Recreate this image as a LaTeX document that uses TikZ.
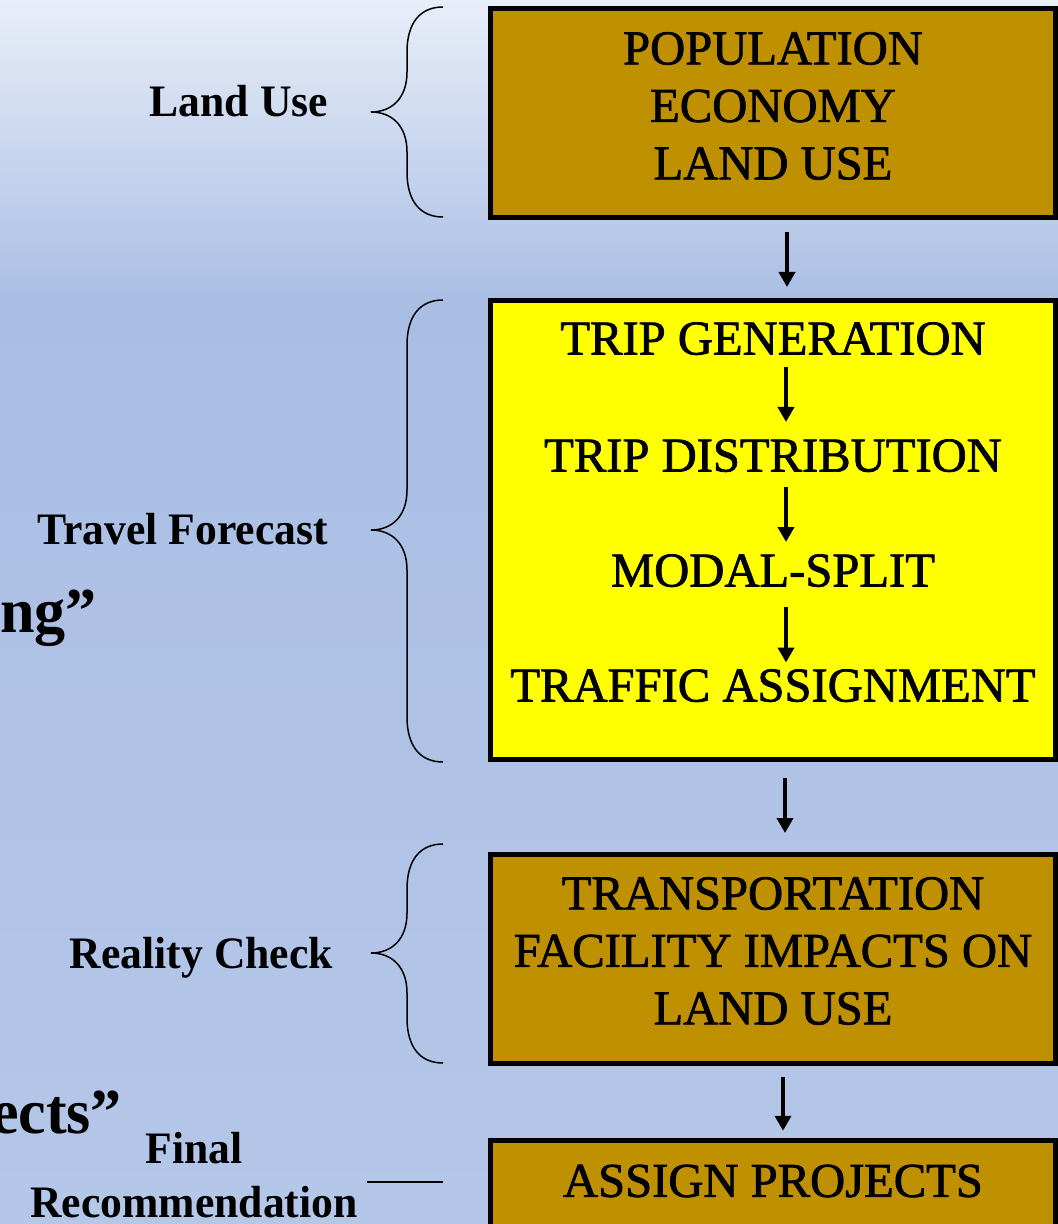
\documentclass[tikz,border=0pt]{standalone}
\usepackage{fontspec}
\setmainfont{Liberation Serif}
\newfontfamily\boxfont{Liberation Serif}[FakeBold=1.5]
\newfontfamily\labelfont{Liberation Serif}[FakeStretch=0.97]
\usetikzlibrary{arrows.meta}
\definecolor{bgtop}{RGB}{232,238,248}
\definecolor{bgmid}{RGB}{170,190,228}
\definecolor{bgbot}{RGB}{181,199,232}
\definecolor{landgold}{RGB}{191,144,0}
\definecolor{tripyellow}{RGB}{255,255,0}
\newcommand{\labelbrace}[3]{%
	\draw[bracket] (443,#1) .. controls (420,#1) and (407,{#1+16}) .. (407,{#1+45})
		-- (407,{#2-40}) .. controls (407,{#2-14}) and (392,#2) .. (371,#2)
		.. controls (392,#2) and (407,{#2+14}) .. (407,{#2+40})
		-- (407,{#3-45}) .. controls (407,{#3-16}) and (420,#3) .. (443,#3);}

\begin{document}
\begin{tikzpicture}[x=0.5pt,y=-0.5pt,
	stagebox/.style={draw=black,line width=2.5pt,minimum width=282.5pt,inner sep=0pt},
	boxtext/.style={align=center,inner sep=0pt,outer sep=0pt,font=\boxfont\fontsize{24.3}{28.75}\selectfont},
	steptext/.style={boxtext,text height=15.5pt,text depth=0pt},
	sidelabel/.style={inner sep=0pt,outer sep=0pt,font=\labelfont\bfseries\fontsize{22.5}{27}\selectfont},
	bigtitle/.style={inner sep=0pt,outer sep=0pt,font=\labelfont\bfseries\fontsize{32}{38}\selectfont},
	flow/.style={line width=2pt,-{Triangle[length=7.5pt,width=8pt]}},
	bracket/.style={line width=0.75pt}]
	\useasboundingbox (0,0) rectangle (1058,1224);
	\clip (0,0) rectangle (1058,1224);
	\shade[top color=bgtop,bottom color=bgmid] (0,0) rectangle (1058,300);
	\shade[top color=bgmid,bottom color=bgbot] (0,299) rectangle (1058,1224);

	\node[stagebox,fill=landgold,minimum height=104.5pt] (landbox) at (773,113) {};
	\node[boxtext] (landtext) at (773,106) {POPULATION\\ECONOMY\\LAND USE};
	\node[stagebox,fill=tripyellow,minimum height=229.5pt] (tripbox) at (773,530) {};
	\node[steptext] (tripgen) at (773,339) {TRIP GENERATION};
	\node[steptext] (tripdist) at (773,456) {TRIP DISTRIBUTION};
	\node[steptext] (modalsplit) at (773,571) {MODAL-SPLIT};
	\node[steptext] (trafassign) at (773,686) {TRAFFIC ASSIGNMENT};
	\node[stagebox,fill=landgold,minimum height=104.5pt] (impactbox) at (773,959) {};
	\node[boxtext] (impacttext) at (773,951) {TRANSPORTATION\\FACILITY IMPACTS ON\\LAND USE};
	\node[stagebox,fill=landgold,minimum height=43.75pt] (assignbox) at (773,1184) {};
	\node[boxtext] (assigntext) at (773,1181) {ASSIGN PROJECTS};

	\path[flow]
		([xshift=7pt]landbox.south) edge[shorten <=6pt,shorten >=5.5pt] ([xshift=7pt]tripbox.north)
		([xshift=6.5pt]tripgen.south) edge[shorten <=6.25pt,shorten >=9.25pt] ([xshift=6.5pt]tripdist.north)
		([xshift=6.5pt]tripdist.south) edge[shorten <=7.75pt,shorten >=6.75pt] ([xshift=6.5pt]modalsplit.north)
		([xshift=6.5pt]modalsplit.south) edge[shorten <=10.25pt,shorten >=4pt] ([xshift=6.5pt]trafassign.north)
		([xshift=6pt]tripbox.south) edge[shorten <=8pt,shorten >=9.5pt] ([xshift=6pt]impactbox.north)
		([xshift=5pt]impactbox.south) edge[shorten <=5.5pt,shorten >=3.5pt] ([xshift=5pt]assignbox.north);

	\labelbrace{7}{112}{217}
	\labelbrace{300}{530}{762}
	\labelbrace{844}{953}{1063}
	\coordinate (finalstart) at (367,1182);
	\coordinate (finalend) at (443,1182);
	\draw[bracket] (finalstart) -- (finalend);

	\node[sidelabel,anchor=base east] (landuse) at (328,117) {Land Use};
	\node[sidelabel,anchor=base east] (travelfc) at (328,544) {Travel Forecast};
	\node[sidelabel,anchor=base east] (reality) at (333,968) {Reality Check};
	\node[sidelabel,anchor=base] (finalword) at (194,1163) {Final};
	\node[sidelabel,anchor=base] (recommend) at (194,1217) {Recommendation};
	\node[bigtitle,anchor=base east] (modeling) at (97,632) {ng”};
	\node[bigtitle,anchor=base east] (projects) at (122,1133) {ects”};
\end{tikzpicture}
\end{document}
